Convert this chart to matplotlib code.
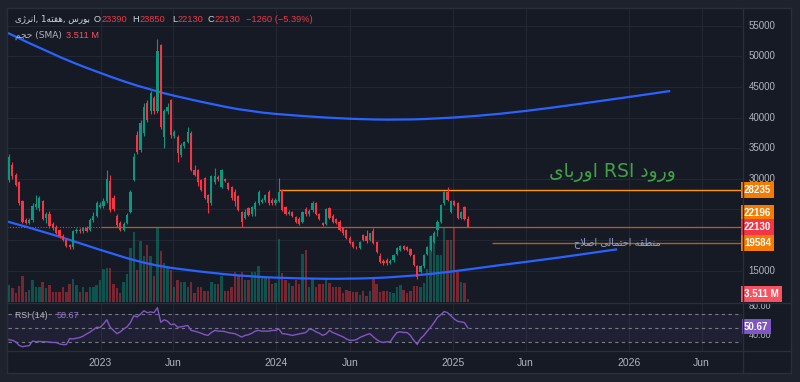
import matplotlib
matplotlib.use("Agg")
import matplotlib.pyplot as plt
import matplotlib.dates as mdates
import matplotlib.transforms as mtransforms
from matplotlib.path import Path
from matplotlib.patches import PathPatch
import numpy as np
import pandas as pd

plt.rcParams['font.family'] = ['Liberation Sans', 'DejaVu Sans']

# ---------------- data (prices in thousands, volume in millions) ----------------
first_week = "2022-06-25"
opens = [29.8,32.3,30.6,29.4,26.4,23.2,22.8,23.3,25.4,25.2,
         26.4,23.6,24.2,22.6,22.2,21.6,20.7,20.0,19.2,18.8,
         21.4,21.7,21.4,22.0,21.6,23.3,24.0,25.4,25.6,26.3,
         29.6,26.8,24.0,22.8,21.6,22.8,24.6,29.8,37.2,34.7,
         37.4,42.4,41.0,43.2,41.0,51.8,36.9,41.0,42.8,37.0,
         36.9,33.9,35.4,36.0,37.4,31.4,31.4,29.8,30.1,27.3,
         26.0,29.4,30.3,28.7,30.0,29.3,28.7,27.8,27.2,24.6,
         23.6,25.2,24.3,25.0,26.0,26.2,26.5,27.9,26.6,26.0,
         26.4,28.2,25.4,24.3,24.6,23.8,23.5,23.0,25.0,24.3,
         24.9,26.0,24.2,22.8,22.6,25.2,24.0,23.4,23.0,21.9,
         21.6,20.3,19.7,18.9,18.7,20.8,20.6,20.0,21.4,19.7,
         17.4,16.6,16.7,16.3,16.7,17.8,18.4,19.0,18.8,18.5,
         17.6,15.7,14.8,15.7,17.8,18.4,19.7,21.6,23.0,26.0,
         27.9,24.6,26.3,26.0,23.6,25.4,23.39]
highs = [34.0,32.8,31.0,29.6,26.6,23.6,23.6,26.0,27.4,27.2,
         26.6,24.6,24.8,22.9,22.4,21.8,21.0,20.3,19.4,21.6,
         21.9,21.9,22.2,22.3,23.6,24.6,26.4,26.2,26.8,31.5,
         30.7,27.4,24.3,23.1,23.0,24.4,28.2,34.2,37.8,39.6,
         42.3,42.8,44.4,43.6,52.9,52.0,41.4,42.4,43.0,37.9,
         37.2,35.8,36.2,38.4,37.8,32.2,31.6,30.0,30.3,27.5,
         30.6,31.8,30.6,31.6,30.2,29.5,28.9,28.4,27.4,24.8,
         25.0,25.4,25.6,26.4,28.2,26.8,27.6,28.235,26.8,26.8,
         30.1,28.4,25.6,24.9,24.8,24.0,23.7,24.8,25.4,25.0,
         26.4,26.2,24.4,23.0,25.2,25.4,24.2,23.6,23.2,22.1,
         21.8,20.6,19.9,19.1,19.9,21.0,21.6,21.2,22.0,19.9,
         17.9,16.9,17.0,16.9,17.8,18.9,19.2,19.2,19.0,18.7,
         17.8,15.9,15.9,17.8,19.1,20.8,21.4,23.2,25.9,28.0,
         28.7,26.6,26.5,26.2,24.8,25.6,23.85]
lows = [29.5,30.0,28.8,25.8,22.8,22.6,22.6,23.0,25.0,24.8,
        23.2,22.8,22.0,21.7,21.0,20.4,19.8,18.9,18.5,18.6,
        21.2,21.2,21.2,21.3,21.4,23.0,23.8,25.2,25.3,26.0,
        24.6,24.7,22.2,21.4,21.4,22.6,24.4,29.6,34.0,34.4,
        37.0,39.2,40.6,40.6,40.8,38.2,35.0,40.6,36.6,36.6,
        32.8,33.6,35.0,35.8,31.2,30.4,28.8,28.0,26.7,24.4,
        25.8,29.2,29.6,28.5,29.4,28.2,26.6,25.6,24.7,22.2,
        23.4,23.9,24.0,23.9,25.8,26.0,26.2,25.8,25.8,25.8,
        26.2,24.7,24.1,24.1,23.8,22.8,22.5,22.8,24.0,24.0,
        24.6,24.1,23.2,22.3,22.4,23.4,22.8,22.6,21.4,20.9,
        20.1,19.3,18.7,18.6,18.5,19.8,19.6,19.8,19.3,17.9,
        16.3,16.0,16.0,16.1,16.5,17.6,18.2,18.4,18.2,17.4,
        15.8,13.7,14.6,15.4,17.6,18.2,19.5,20.6,22.8,25.8,
        26.3,24.4,25.5,23.4,23.4,23.2,22.13]
closes = [33.6,30.5,29.0,26.0,23.0,22.8,23.3,25.6,25.9,26.8,
          23.4,24.2,22.3,21.9,21.2,20.6,20.0,19.1,18.8,21.4,
          21.7,21.4,21.9,21.5,23.3,24.0,26.0,25.8,26.3,29.9,
          24.9,25.1,22.4,21.6,22.7,24.1,27.8,33.6,34.4,39.1,
          41.8,39.6,44.0,41.0,50.8,38.5,41.0,41.8,37.2,37.6,
          34.2,35.5,36.0,37.7,31.4,30.6,29.5,28.2,26.9,26.1,
          30.4,30.4,29.9,31.4,29.6,28.4,26.8,26.4,24.9,23.0,
          24.6,24.1,25.4,26.0,27.9,26.5,27.3,26.0,26.0,26.6,
          27.9,24.9,24.3,24.6,24.0,23.0,22.7,24.6,24.3,24.7,
          26.0,24.3,23.4,22.5,25.0,23.6,23.0,22.8,21.6,21.1,
          20.3,19.5,18.9,18.8,19.7,20.0,19.8,21.1,19.5,18.1,
          16.5,16.3,16.3,16.6,17.6,18.7,19.0,18.6,18.4,17.6,
          16.0,14.0,15.7,17.6,18.9,20.6,21.2,23.0,25.7,27.9,
          26.5,26.3,25.8,23.6,24.6,23.39,22.13]
volumes = [19,16,10.6,18,29,11,14,25,17,17,
           23,16,19,11,11,11,17,11,21,26,
           19,11,17,11,17,17,19,25,38,39,
           39,21,15.5,10,23,32,61,80,36,69,
           52,65,52,29.5,84,58,44,40,36,17,
           25,23,23,17,23,10,17,17,13,13,
           23,20,20,29.5,12,12,17,34,29.5,34,
           25,25,34,34,41,29.5,27,27,20,22,
           72,32.6,25,22,18,25,20,55,59,17,
           27,17,20,20,27,22,17,17,17,10,
           14,12,11,11,8,12,6.5,12,27,20,
           11,12,12,11,10,17,19,14,10,12,
           18,18,17,22,38,75,68.5,53,53,84,
           70,71,84,34,23,22,3.511]
rsi = [34,33,31,26,24,25,25.5,32,31,31.5,
       31,31,30.5,30,30,28,27,27,35.5,35,
       36,37,39,42,44.6,48,51.5,51,56,62,
       51.5,47,42.4,45,49,52,58,67.6,66,70,
       74.6,72,73,72,79,58.4,62,60,55,56,
       51.5,52,53,54,47,46,44.6,43,41,40,
       44,47,46,46,45.3,44,43,42.4,40,37.7,
       40,41,43,46,47,46,46,46,47,47,
       49,42.4,42,41,40,41,42,43,44,49,
       48,45,43,40,42,47,44,42,40,38,
       35,33,33,34,37,39,41,42.4,38,34,
       31,30,31,31,38,44,45,44,44,40,
       33,27.3,35.5,40,46,51.5,58,65.3,69,73.6,
       72,67.6,63,59.8,59,58,50.67]

price_ticks = [15000, 20000, 25000, 30000, 35000, 40000, 45000, 50000, 55000]
hidden_price_ticks = [20000, 25000]
time_ticks = ["2023-01-01", "2023-06-01", "2024-01-01", "2024-06-01",
              "2025-01-01", "2025-06-01", "2026-01-01", "2026-06-01"]
time_labels = ["2023", "Jun", "2024", "Jun", "2025", "Jun", "2026", "Jun"]
rsi_levels = [70, 50, 30]
rsi_axis_labels = [80, 40]

upper_arc_dates = ["2022-06-23", "2022-09-18", "2022-12-31", "2023-04-13", "2023-07-26",
                   "2023-11-07", "2024-02-19", "2024-06-02", "2024-09-13", "2024-12-26",
                   "2025-04-09", "2025-07-22", "2025-11-03", "2026-02-14", "2026-03-28"]
upper_arc_prices = [53808, 50494, 47228, 44502, 42591, 40959, 40257, 39767, 39604, 39930,
                    40583, 41563, 42706, 43849, 44339]
lower_arc_dates = ["2022-06-23", "2022-09-18", "2022-12-31", "2023-04-13", "2023-07-26",
                   "2023-11-07", "2024-02-19", "2024-06-02", "2024-09-13", "2024-12-26",
                   "2025-04-09", "2025-07-22", "2025-12-08"]
lower_arc_prices = [22999, 21105, 18378, 15929, 14835, 14019, 13724, 13643, 13970, 14786,
                    15929, 16909, 18493]

level_high, level_high_start = 28235, "2024-01-06"
level_mid, level_mid_start = 22196, "2023-01-01"
level_low, level_low_start = 19584, "2025-03-23"
x_range = ("2022-06-23", "2026-08-24")
price_range = (9889, 57727)
volume_range = (0, 333)
rsi_range = (18.0, 85.6)
text_overbought_pos = ("2025-11-29", 31000)
text_correction_pos = ("2025-12-08", 19600)

# ---------------- colours ----------------
UP, DN = '#089981', '#f23645'
BG, FIG = '#161a25', '#1e222d'
GRID, SEP, TXT = '#232734', '#2a2e39', '#b2b5be'

W, H = 800, 382
def rect(x0, y0, x1, y1):
    return [x0 / W, 1 - y1 / H, (x1 - x0) / W, (y1 - y0) / H]
def fp(x, y):
    return x / W, 1 - y / H

fig = plt.figure(figsize=(8, 3.82), dpi=100, facecolor=FIG)

bg = fig.add_axes(rect(7, 8, 791, 373))
bg.set_facecolor(BG); bg.set_xticks([]); bg.set_yticks([])
for s in bg.spines.values():
    s.set_color(SEP); s.set_linewidth(1)
fig.add_artist(plt.Line2D([7/W, 791/W], [1-302.5/H]*2, color=SEP, lw=1))
fig.add_artist(plt.Line2D([7/W, 791/W], [1-351/H]*2, color=SEP, lw=1))
fig.add_artist(plt.Line2D([742.5/W]*2, [1-373/H, 1-8/H], color=SEP, lw=1))

ax_vol = fig.add_axes(rect(8, 9, 742, 302))
ax = fig.add_axes(rect(8, 9, 742, 302), sharex=ax_vol)
ax_rsi = fig.add_axes(rect(8, 303, 742, 351), sharex=ax_vol)
for a in (ax_vol, ax, ax_rsi):
    a.set_facecolor('none')
    for s in a.spines.values():
        s.set_visible(False)
ax_vol.axis('off'); ax.axis('off')

dates = pd.date_range(first_week, periods=len(closes), freq='7D')
dn = mdates.date2num(dates)
o = np.array(opens) * 1000; h = np.array(highs) * 1000
l = np.array(lows) * 1000; c = np.array(closes) * 1000
up = c >= o
col = np.where(up, UP, DN)

ax_vol.set_xlim(mdates.date2num(pd.to_datetime(x_range[0])), mdates.date2num(pd.to_datetime(x_range[1])))
ax.set_ylim(*price_range)
ax_vol.set_ylim(*volume_range)
ax_rsi.set_ylim(*rsi_range)

tnums = mdates.date2num(pd.to_datetime(time_ticks))
# grid
tr = mtransforms.blended_transform_factory(ax_vol.transAxes, ax.transData)
for p in price_ticks:
    ax_vol.plot([0, 1], [p, p], transform=tr, color=GRID, lw=0.8, zorder=0)
for t in tnums:
    ax_vol.axvline(t, color=GRID, lw=0.8, zorder=0)
    ax_rsi.axvline(t, color=GRID, lw=0.8, zorder=0)

# volume
ax_vol.bar(dn, volumes, width=5.0, color=col, alpha=0.45, linewidth=0, zorder=1)

# arcs (drawn as smooth quadratic curves through the read points)
def smooth_arc(a, xs, ys, **kw):
    xs = mdates.date2num(pd.to_datetime(xs)); ys = list(ys)
    verts = [(xs[0], ys[0])]; codes = [Path.MOVETO]
    n = len(xs)
    for i in range(1, n - 1):
        if i == n - 2:
            end = (xs[-1], ys[-1])
        else:
            end = ((xs[i] + xs[i + 1]) / 2, (ys[i] + ys[i + 1]) / 2)
        verts += [(xs[i], ys[i]), end]
        codes += [Path.CURVE3, Path.CURVE3]
    a.add_patch(PathPatch(Path(verts, codes), fill=False, **kw))

smooth_arc(ax, upper_arc_dates, upper_arc_prices, ec='#2962ff', lw=1.6, zorder=5)
smooth_arc(ax, lower_arc_dates, lower_arc_prices, ec='#2962ff', lw=1.6, zorder=5)

# levels
xr = mdates.date2num(pd.to_datetime(x_range[1]))
ax.hlines(c[-1], dn[0] - 10, xr, colors=DN, lw=0.8, linestyles=(0, (1, 1.5)), zorder=2)
ax.hlines(level_mid, mdates.date2num(pd.to_datetime(level_mid_start)), xr, colors='#b0601e', lw=0.9, zorder=2)
ax.hlines(level_high, mdates.date2num(pd.to_datetime(level_high_start)), xr, colors='#ff9800', lw=1.0, zorder=2)
ax.hlines(level_low, mdates.date2num(pd.to_datetime(level_low_start)), xr, colors='#a4641c', lw=1.0, zorder=2)

# candles
ax.vlines(dn, l, h, colors=col, lw=0.8, zorder=6)
body = np.maximum(np.abs(c - o), 80)
ax.bar(dn, body, bottom=np.minimum(o, c), width=4.6, color=col, linewidth=0, zorder=7)

# persian texts (visual order, presentation forms)
t_overbought = "\u0649\uFE8E\uFE91\u0631\u0648\u0627 RSI \u062F\u0648\u0631\u0648"
t_correction = ("\u062D\uFEFC\uFEBB\u0627 "
                "\uFEF0\uFEDF\uFE8E\uFEE4\uFE98\uFEA3\u0627 "
                "\uFEEA\uFED8\uFEC4\uFEE8\uFEE3")
ax.text(pd.to_datetime(text_overbought_pos[0]), text_overbought_pos[1], t_overbought,
        color='#43a047', fontsize=13.5, ha='center', va='center',
        family=['DejaVu Sans'], zorder=8)
ax.text(pd.to_datetime(text_correction_pos[0]), text_correction_pos[1], t_correction,
        color='#8fa3cc', fontsize=7, ha='center', va='center',
        family=['DejaVu Sans'], zorder=8)

# RSI pane
ax_rsi.axhspan(rsi_levels[-1], rsi_levels[0], color='#7e57c2', alpha=0.1, lw=0, zorder=0)
for lv in rsi_levels:
    ax_rsi.axhline(lv, color='#787b86', lw=0.8, ls=(0, (3, 3)), zorder=1)
ax_rsi.plot(dn, rsi, color='#7e57c2', lw=1.0, zorder=3)
ax_rsi.set_yticks([])
ax_rsi.set_xticks(tnums)
ax_rsi.set_xticklabels(time_labels)
ax_rsi.tick_params(axis='x', length=0, pad=5, labelcolor=TXT, labelsize=7.5)

# right price scale
axr = fig.add_axes(rect(743, 9, 790, 302)); axr.axis('off')
axr.set_ylim(*price_range); axr.set_xlim(0, 1)
for p in price_ticks:
    if p in hidden_price_ticks:
        continue
    axr.text(0.12, p, f"{p}", color=TXT, fontsize=7, va='center', ha='left', clip_on=True)

def tag(a, y, s, fc, dy=0, pad=0.3):
    a.annotate(s, xy=(0.02, y), xycoords=('axes fraction', 'data'),
               xytext=(0, dy), textcoords='offset pixels',
               color='white', fontsize=7, fontweight='bold', va='center', ha='left',
               bbox=dict(boxstyle=f'square,pad={pad}', fc=fc, ec='none'), zorder=10)

tag(axr, level_high, f"{level_high}", '#f57c00')
tag(axr, level_mid, f"{level_mid}", '#f57c00', dy=14)
tag(axr, c[-1], f"{c[-1]:.0f}", DN)
tag(axr, level_low, f"{level_low}", '#f57c00')

axv_r = fig.add_axes(rect(743, 9, 790, 302)); axv_r.axis('off')
axv_r.set_ylim(*volume_range); axv_r.set_xlim(0, 1)
tag(axv_r, volumes[-1], f"{volumes[-1]:.3f} M", '#f7525f', dy=5)

axrr = fig.add_axes(rect(743, 303, 790, 351)); axrr.axis('off')
axrr.set_ylim(*rsi_range); axrr.set_xlim(0, 1)
for v in rsi_axis_labels:
    axrr.text(0.12, v, f"{v:.2f}", color=TXT, fontsize=6.5, va='center', ha='left', clip_on=True)
tag(axrr, rsi[-1], f"{rsi[-1]:.2f}", '#7e57c2', dy=1, pad=0.25)

# header
name = ("\u0649\u0698\uFEAE\uFEE7\u0627, 1\uFEEA\uFE98\uFED4\uFEEB, "
        "\u0633\u0631\uFEEE\uFE91")
fig.text(*fp(15, 19), name, color='#d1d4dc', fontsize=6.3, va='center', ha='left',
         family=['DejaVu Sans'])
chg = c[-1] - c[-2]
pct = chg / c[-2] * 100
pieces = [(94, "O", '#d1d4dc'), (101.5, f"{o[-1]:.0f}", DN),
          (132.5, "H", '#d1d4dc'), (139.5, f"{h[-1]:.0f}", DN),
          (172, "L", '#d1d4dc'), (177.5, f"{l[-1]:.0f}", DN),
          (207.5, "C", '#d1d4dc'), (214.5, f"{c[-1]:.0f}", DN),
          (246, f"\u2212{abs(chg):.0f} (\u2212{abs(pct):.2f}%)", DN)]
for x, s, cc in pieces:
    fig.text(*fp(x, 19), s, color=cc, fontsize=6.7, va='center', ha='left')
fig.text(*fp(15, 35), "\uFEE2\uFEA0\uFEA3 (SMA)", color=TXT, fontsize=6.5, va='center', ha='left',
         family=['DejaVu Sans'])
fig.text(*fp(66, 35), f"{volumes[-1]:.3f} M", color='#f7525f', fontsize=6.7, va='center', ha='left')
fig.text(*fp(15, 315), "RSI (14)", color=TXT, fontsize=6.3, va='center', ha='left')
fig.text(*fp(57, 315), f"{rsi[-1]:.2f}", color='#9575cd', fontsize=6.5, va='center', ha='left')

fig.savefig("out.png", dpi=100, facecolor=FIG)
